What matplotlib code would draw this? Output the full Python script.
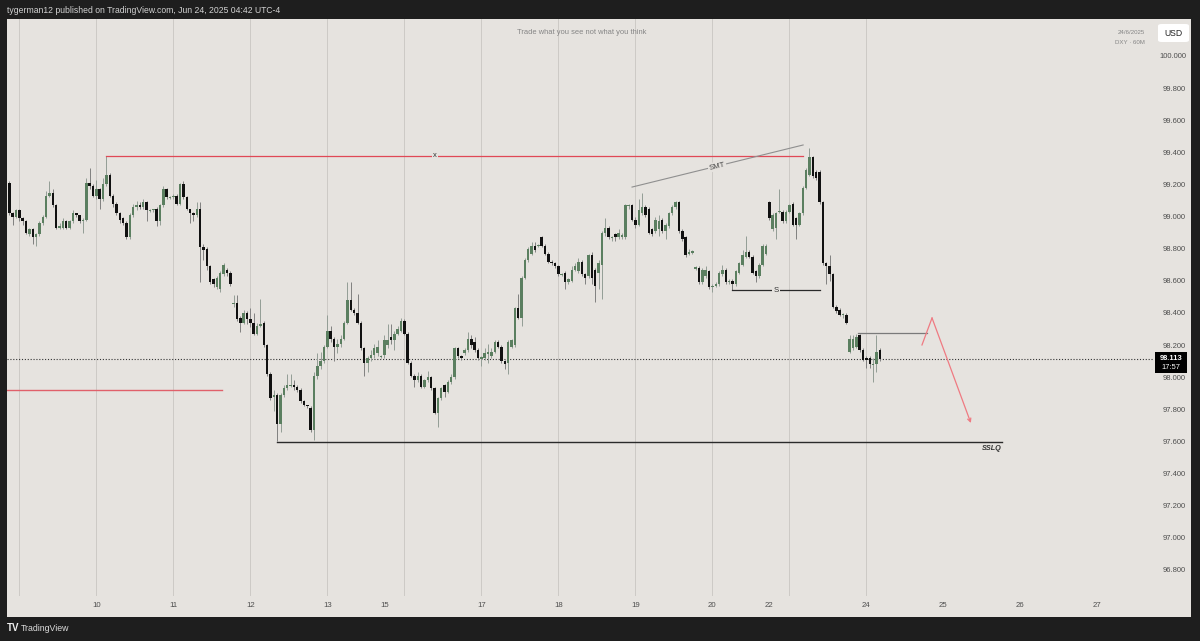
import numpy as np
import matplotlib
matplotlib.use("Agg")
import matplotlib.pyplot as plt
from matplotlib.patches import Rectangle, FancyBboxPatch

# ---------------- data (DXY 60 min candles) ----------------
opens = [
    99.21, 99.02, 99.00, 99.04, 98.99, 98.97, 98.89, 98.92, 98.87, 98.89,
    98.96, 99.00, 99.13, 99.15, 99.07, 98.93, 98.93, 98.97, 98.93, 98.97,
    99.02, 99.01, 98.97, 98.98, 99.21, 99.19, 99.13, 99.17, 99.11, 99.20,
    99.26, 99.13, 99.08, 99.02, 98.99, 98.96, 98.87, 99.01, 99.06, 99.07,
    99.06, 99.09, 99.04, 99.04, 99.05, 98.97, 99.07, 99.17, 99.12, 99.12,
    99.13, 99.08, 99.20, 99.12, 99.05, 99.02, 99.01, 99.05, 98.81, 98.80,
    98.69, 98.61, 98.56, 98.55, 98.64, 98.67, 98.65, 98.46, 98.46, 98.37,
    98.34, 98.40, 98.36, 98.34, 98.27, 98.32, 98.34, 98.20, 98.02, 97.88,
    97.89, 97.71, 97.89, 97.93, 97.95, 97.95, 97.94, 97.92, 97.85, 97.83,
    97.81, 97.67, 98.01, 98.07, 98.10, 98.19, 98.29, 98.24, 98.19, 98.21,
    98.24, 98.34, 98.48, 98.42, 98.40, 98.34, 98.18, 98.09, 98.12, 98.14,
    98.15, 98.13, 98.14, 98.20, 98.25, 98.23, 98.27, 98.29, 98.35, 98.27,
    98.09, 98.01, 97.98, 98.01, 97.94, 97.98, 98.00, 97.93, 97.78, 97.87,
    97.95, 97.91, 97.97, 98.00, 98.18, 98.13, 98.15, 98.17, 98.24, 98.22,
    98.17, 98.12, 98.12, 98.15, 98.13, 98.16, 98.22, 98.19, 98.10, 98.09,
    98.19, 98.20, 98.43, 98.37, 98.62, 98.73, 98.77, 98.82, 98.82, 98.87,
    98.82, 98.77, 98.72, 98.71, 98.69, 98.64, 98.65, 98.59, 98.60, 98.67,
    98.66, 98.72, 98.64, 98.63, 98.76, 98.67, 98.65, 98.70, 98.90, 98.93,
    98.87, 98.89, 98.87, 98.88, 98.87, 99.07, 99.07, 98.98, 98.95, 99.02,
    99.06, 99.05, 98.92, 98.91, 98.92, 98.98, 98.91, 98.94, 99.02, 99.06,
    99.09, 98.91, 98.87, 98.77, 98.78, 98.68, 98.68, 98.59, 98.63, 98.66,
    98.56, 98.57, 98.58, 98.64, 98.67, 98.59, 98.60, 98.58, 98.65, 98.70,
    98.75, 98.78, 98.75, 98.66, 98.63, 98.70, 98.77, 99.09, 98.92, 98.93,
    99.03, 99.03, 98.97, 99.03, 99.08, 98.99, 98.95, 99.02, 99.18, 99.26,
    99.37, 99.28, 99.28, 99.09, 98.71, 98.69, 98.64, 98.44, 98.42, 98.39,
    98.39, 98.16, 98.18, 98.19, 98.26, 98.17, 98.12, 98.12, 98.08, 98.08,
    98.17,
]
highs = [
    99.22, 99.03, 99.05, 99.05, 99.00, 98.98, 98.93, 98.93, 98.90, 98.97,
    99.01, 99.16, 99.22, 99.17, 99.08, 98.96, 98.99, 98.98, 98.98, 99.04,
    99.02, 99.01, 98.99, 99.24, 99.30, 99.20, 99.23, 99.18, 99.24, 99.38,
    99.27, 99.14, 99.09, 99.03, 99.00, 98.97, 99.02, 99.08, 99.10, 99.09,
    99.11, 99.10, 99.05, 99.05, 99.06, 99.08, 99.19, 99.18, 99.13, 99.14,
    99.14, 99.21, 99.22, 99.13, 99.05, 99.03, 99.09, 99.09, 98.83, 98.81,
    98.70, 98.62, 98.63, 98.66, 98.71, 98.68, 98.66, 98.51, 98.51, 98.38,
    98.42, 98.41, 98.43, 98.40, 98.34, 98.49, 98.35, 98.21, 98.03, 97.92,
    97.90, 97.90, 97.95, 98.02, 98.02, 97.98, 97.95, 97.93, 97.86, 97.83,
    97.82, 98.03, 98.15, 98.16, 98.20, 98.39, 98.32, 98.25, 98.24, 98.26,
    98.35, 98.59, 98.59, 98.43, 98.52, 98.35, 98.19, 98.13, 98.17, 98.21,
    98.23, 98.14, 98.26, 98.33, 98.33, 98.29, 98.32, 98.37, 98.36, 98.28,
    98.10, 98.02, 98.03, 98.02, 97.99, 98.04, 98.01, 97.94, 97.88, 97.94,
    97.96, 97.98, 98.02, 98.19, 98.19, 98.14, 98.18, 98.28, 98.26, 98.25,
    98.18, 98.13, 98.18, 98.21, 98.18, 98.23, 98.23, 98.20, 98.11, 98.23,
    98.24, 98.44, 98.52, 98.63, 98.74, 98.81, 98.84, 98.84, 98.83, 98.88,
    98.83, 98.78, 98.73, 98.72, 98.70, 98.65, 98.66, 98.62, 98.69, 98.71,
    98.74, 98.73, 98.65, 98.77, 98.78, 98.68, 98.73, 98.91, 98.99, 98.94,
    98.88, 98.90, 98.92, 98.90, 99.08, 99.08, 99.08, 99.00, 99.11, 99.15,
    99.07, 99.06, 98.93, 99.00, 99.01, 98.99, 98.96, 99.03, 99.07, 99.10,
    99.10, 98.92, 98.88, 98.80, 98.79, 98.69, 98.69, 98.68, 98.69, 98.67,
    98.58, 98.59, 98.66, 98.70, 98.68, 98.61, 98.61, 98.67, 98.72, 98.79,
    98.88, 98.79, 98.76, 98.67, 98.71, 98.83, 98.83, 99.10, 99.02, 99.03,
    99.17, 99.04, 99.04, 99.08, 99.09, 99.00, 99.03, 99.19, 99.30, 99.43,
    99.38, 99.29, 99.29, 99.10, 98.72, 98.76, 98.65, 98.45, 98.43, 98.40,
    98.40, 98.26, 98.26, 98.27, 98.27, 98.18, 98.13, 98.13, 98.12, 98.26,
    98.18,
]
lows = [
    99.01, 98.95, 98.99, 98.97, 98.95, 98.89, 98.88, 98.83, 98.82, 98.88,
    98.95, 98.99, 99.12, 99.06, 98.92, 98.92, 98.92, 98.92, 98.92, 98.96,
    99.00, 98.96, 98.90, 98.97, 99.17, 99.12, 99.11, 99.05, 99.10, 99.19,
    99.12, 99.06, 99.01, 98.96, 98.95, 98.86, 98.86, 99.00, 99.04, 99.05,
    99.05, 98.97, 99.03, 99.03, 98.94, 98.95, 99.06, 99.11, 99.11, 99.11,
    99.07, 99.07, 99.11, 99.04, 98.96, 98.97, 99.00, 98.59, 98.73, 98.67,
    98.58, 98.56, 98.55, 98.53, 98.63, 98.63, 98.57, 98.44, 98.35, 98.28,
    98.33, 98.33, 98.31, 98.26, 98.26, 98.31, 98.19, 98.01, 97.86, 97.79,
    97.60, 97.66, 97.88, 97.92, 97.94, 97.92, 97.91, 97.84, 97.82, 97.81,
    97.66, 97.61, 97.99, 98.05, 98.09, 98.18, 98.22, 98.10, 98.15, 98.19,
    98.23, 98.33, 98.41, 98.39, 98.33, 98.17, 98.01, 98.03, 98.10, 98.12,
    98.13, 98.12, 98.12, 98.18, 98.21, 98.17, 98.26, 98.28, 98.26, 98.08,
    98.00, 97.94, 97.97, 97.93, 97.93, 97.97, 97.92, 97.77, 97.69, 97.86,
    97.88, 97.90, 97.96, 97.99, 98.12, 98.11, 98.14, 98.16, 98.18, 98.16,
    98.11, 98.07, 98.11, 98.09, 98.12, 98.15, 98.18, 98.09, 98.05, 98.02,
    98.18, 98.19, 98.36, 98.32, 98.61, 98.72, 98.76, 98.78, 98.81, 98.81,
    98.76, 98.71, 98.70, 98.68, 98.63, 98.63, 98.55, 98.58, 98.59, 98.66,
    98.65, 98.63, 98.58, 98.62, 98.58, 98.47, 98.55, 98.49, 98.88, 98.86,
    98.85, 98.85, 98.86, 98.86, 98.86, 99.05, 98.97, 98.93, 98.94, 99.01,
    99.00, 98.89, 98.88, 98.90, 98.88, 98.90, 98.86, 98.93, 99.01, 99.05,
    98.90, 98.85, 98.75, 98.76, 98.77, 98.67, 98.58, 98.58, 98.62, 98.55,
    98.53, 98.56, 98.57, 98.63, 98.58, 98.58, 98.54, 98.57, 98.64, 98.69,
    98.74, 98.74, 98.64, 98.59, 98.62, 98.69, 98.76, 98.98, 98.91, 98.86,
    99.02, 98.96, 98.96, 99.02, 98.94, 98.86, 98.94, 99.01, 99.17, 99.25,
    99.24, 99.23, 99.08, 98.70, 98.58, 98.60, 98.43, 98.40, 98.38, 98.37,
    98.33, 98.15, 98.17, 98.18, 98.16, 98.10, 98.06, 98.06, 97.97, 98.03,
    98.10,
]
closes = [
    99.02, 99.00, 99.04, 98.99, 98.97, 98.90, 98.92, 98.87, 98.89, 98.96,
    99.00, 99.13, 99.15, 99.07, 98.93, 98.94, 98.97, 98.93, 98.97, 99.02,
    99.01, 98.97, 98.98, 99.21, 99.19, 99.13, 99.17, 99.11, 99.20, 99.26,
    99.13, 99.08, 99.02, 98.98, 98.96, 98.87, 99.01, 99.06, 99.07, 99.06,
    99.09, 99.04, 99.04, 99.05, 98.97, 99.07, 99.17, 99.12, 99.12, 99.13,
    99.08, 99.20, 99.12, 99.05, 99.02, 99.01, 99.05, 98.81, 98.79, 98.69,
    98.59, 98.58, 98.62, 98.65, 98.70, 98.65, 98.58, 98.46, 98.36, 98.34,
    98.40, 98.36, 98.34, 98.27, 98.32, 98.33, 98.20, 98.02, 97.87, 97.89,
    97.71, 97.89, 97.93, 97.95, 97.95, 97.94, 97.92, 97.85, 97.83, 97.82,
    97.67, 98.01, 98.07, 98.10, 98.19, 98.29, 98.24, 98.19, 98.21, 98.24,
    98.34, 98.48, 98.42, 98.40, 98.34, 98.18, 98.09, 98.12, 98.14, 98.18,
    98.19, 98.13, 98.23, 98.23, 98.23, 98.27, 98.30, 98.35, 98.27, 98.09,
    98.01, 97.98, 98.01, 97.94, 97.98, 98.00, 97.93, 97.78, 97.87, 97.93,
    97.91, 97.97, 98.00, 98.18, 98.13, 98.12, 98.17, 98.24, 98.20, 98.17,
    98.12, 98.12, 98.15, 98.15, 98.16, 98.22, 98.19, 98.10, 98.08, 98.22,
    98.23, 98.43, 98.37, 98.62, 98.73, 98.80, 98.82, 98.79, 98.82, 98.82,
    98.77, 98.72, 98.71, 98.69, 98.64, 98.64, 98.59, 98.61, 98.67, 98.69,
    98.72, 98.64, 98.62, 98.76, 98.62, 98.57, 98.71, 98.90, 98.93, 98.87,
    98.87, 98.87, 98.90, 98.88, 99.07, 99.07, 98.98, 98.95, 99.04, 99.06,
    99.01, 98.90, 98.89, 98.98, 98.97, 98.91, 98.95, 99.02, 99.06, 99.09,
    98.91, 98.86, 98.76, 98.78, 98.78, 98.68, 98.59, 98.67, 98.67, 98.56,
    98.57, 98.58, 98.65, 98.67, 98.59, 98.60, 98.58, 98.66, 98.71, 98.76,
    98.78, 98.75, 98.65, 98.63, 98.70, 98.82, 98.82, 98.99, 99.01, 99.02,
    99.03, 98.97, 99.03, 99.07, 98.95, 98.95, 99.02, 99.18, 99.29, 99.37,
    99.25, 99.24, 99.09, 98.71, 98.69, 98.64, 98.44, 98.41, 98.39, 98.39,
    98.34, 98.24, 98.24, 98.25, 98.17, 98.11, 98.11, 98.08, 98.08, 98.16,
    98.113,
]

# time axis (candle index of session/day starts)
day_labels = ["10", "11", "12", "13", "15", "17", "18", "19", "20", "22", "24", "25", "26", "27"]
day_label_pos = [26, 49, 72, 95, 112, 141, 164, 187, 210, 227, 256, 279, 302, 325]
grid_pos = [3, 26, 49, 72, 95, 118, 141, 164, 187, 210, 233, 256]
price_levels = [96.8, 97.0, 97.2, 97.4, 97.6, 97.8, 98.0, 98.2, 98.4, 98.6,
                98.8, 99.0, 99.2, 99.4, 99.6, 99.8, 100.0]
last_price = 98.113

# drawings (index, price)
x_line_x = [29, 237.1];        x_line_y = [99.38, 99.38]
smt_x = [186.0, 237.1];        smt_y = [99.184, 99.446]
s_x = [215.9, 242.1];          s_y = [98.543, 98.543]
sslq_x = [80, 296.5];          sslq_y = [97.597, 97.597]
left_red_x = [-0.7, 63.5];     left_red_y = [97.921, 97.921]
grey_x = [253.5, 274.1];       grey_y = [98.276, 98.276]
arrow_x = [272.6, 275.6, 287.2]
arrow_y = [98.201, 98.369, 97.715]

# ---------------- figure ----------------
W, H = 1200, 641
fig = plt.figure(figsize=(12, 6.41), dpi=100)
fig.patch.set_facecolor('#1e1e1e')
PANE = '#e6e3df'
FONT = 'Liberation Sans'


def fx(px):
    return px / W


def fy(py):
    return 1 - py / H


fig.patches.append(Rectangle((fx(7), fy(617)), fx(1191) - fx(7), fy(19) - fy(617),
                             transform=fig.transFigure, facecolor=PANE,
                             edgecolor='none', zorder=-5))

ax = fig.add_axes([fx(7), fy(596), fx(1153) - fx(7), fy(19) - fy(596)])
ax.set_zorder(1)
ax.set_facecolor(PANE)
for s in ax.spines.values():
    s.set_visible(False)
ax.set_xlim(-0.69, 341.6)
ax.set_ylim(96.638, 100.2303)

for g in grid_pos:
    ax.axvline(g, color='#cdcac6', lw=0.7, zorder=0)

o = np.array(opens)
h = np.array(highs)
l = np.array(lows)
c = np.array(closes)
x = np.arange(len(c))
up = c >= o

ax.vlines(x[up], l[up], h[up], colors='#939d95', lw=0.7, zorder=2)
ax.vlines(x[~up], l[~up], h[~up], colors='#808080', lw=0.7, zorder=2)
bot = np.minimum(o, c)
hgt = np.abs(c - o)
minh = 0.008
bot = np.where(hgt < minh, (o + c) / 2 - minh / 2, bot)
hgt = np.maximum(hgt, minh)
ax.bar(x[up], hgt[up], bottom=bot[up], width=0.74, color='#5b7f60', lw=0, zorder=3)
ax.bar(x[~up], hgt[~up], bottom=bot[~up], width=0.74, color='#111111', lw=0, zorder=3)

# last price dotted line
ax.axhline(last_price, color='#333333', lw=0.8, ls=(0, (1, 1.6)), zorder=1)

# drawings
label_box = dict(facecolor=PANE, edgecolor='none', pad=0.8)
ax.plot(x_line_x, x_line_y, color='#e04856', lw=0.9, zorder=4)
ax.text(127.1, 99.38, 'x', fontsize=5.5, color='#333333', ha='center', va='center',
        family=FONT, bbox=label_box, zorder=5)
ax.plot(smt_x, smt_y, color='#8f8f8f', lw=0.8, zorder=4)
ax.text(211.4, 99.314, 'SMT', fontsize=5.6, color='#444444', ha='center', va='center',
        rotation=13.8, rotation_mode='anchor', family=FONT, bbox=label_box, zorder=5)
ax.plot(s_x, s_y, color='#2a2a2a', lw=0.9, zorder=4)
ax.text(229.0, 98.543, 'S', fontsize=5.6, color='#333333', ha='center', va='center',
        family=FONT, bbox=label_box, zorder=5)
ax.plot(sslq_x, sslq_y, color='#2a2a2a', lw=1.0, zorder=4)
ax.text(296.5, 97.575, 'SSLQ', fontsize=5.2, color='#333333', ha='right', va='top',
        style='italic', fontweight='bold', family=FONT, zorder=5)
ax.plot(left_red_x, left_red_y, color='#e0606a', lw=1.0, zorder=4)
ax.plot(grey_x, grey_y, color='#7a7a7a', lw=0.9, zorder=4)
ax.plot(arrow_x[:2], arrow_y[:2], color='#ef7a82', lw=0.9, zorder=4)
ax.annotate('', xy=(arrow_x[2], arrow_y[2]), xytext=(arrow_x[1], arrow_y[1]),
            arrowprops=dict(arrowstyle='->', color='#ef7a82', lw=0.9,
                            shrinkA=0, shrinkB=0, mutation_scale=6), zorder=4)

# axes ticks
ax.set_xticks(day_label_pos)
ax.set_xticklabels(day_labels)
ax.tick_params(axis='x', length=0, pad=4.6, labelsize=5.6, labelcolor='#4e4e4e')
ax.yaxis.tick_right()
ax.set_yticks(price_levels)
ax.set_yticklabels([f'{p:.3f}' for p in price_levels])
ax.tick_params(axis='y', length=0, pad=23.8, labelsize=5.5, labelcolor='#4e4e4e')
for lbl in ax.get_yticklabels():
    lbl.set_ha('right')
    lbl.set_family(FONT)
for lbl in ax.get_xticklabels():
    lbl.set_family(FONT)

# last price tag
fig.patches.append(Rectangle((fx(1155), fy(373)), fx(1187) - fx(1155), fy(352) - fy(373),
                             transform=fig.transFigure, facecolor='#000000',
                             edgecolor='none', zorder=5))
fig.text(fx(1171), fy(358.5), '98.113', fontsize=5.4, fontweight='bold', color='white',
         ha='center', va='center', family=FONT, zorder=6)
fig.text(fx(1171), fy(367.5), '17:57', fontsize=5.4, color='white',
         ha='center', va='center', family=FONT, zorder=6)

# header / footer / overlays
fig.text(fx(7), fy(10.5), 'tygerman12 published on TradingView.com, Jun 24, 2025 04:42 UTC-4',
         fontsize=6.2, color='#d2d2d2', ha='left', va='center', family=FONT)
fig.text(fx(582), fy(33), 'Trade what you see not what you think', fontsize=5.4,
         color='#858585', ha='center', va='center', family=FONT, zorder=6)
fig.text(fx(1145), fy(32), '24/6/2025', fontsize=4.4, color='#858585',
         ha='right', va='center', family=FONT, zorder=6)
fig.text(fx(1145), fy(42), 'DXY · 60M', fontsize=4.4, color='#858585',
         ha='right', va='center', family=FONT, zorder=6)
fig.patches.append(FancyBboxPatch((fx(1158), fy(42)), fx(1189) - fx(1158), fy(24) - fy(42),
                                  boxstyle='round,pad=0,rounding_size=0.003',
                                  transform=fig.transFigure, facecolor='white',
                                  edgecolor='none', zorder=5))
fig.text(fx(1173.5), fy(33), 'USD', fontsize=6.2, color='#222222', ha='center',
         va='center', family=FONT, zorder=6)
fig.text(fx(7), fy(628), 'TV', fontsize=7, fontweight='bold', color='#f0f0f0',
         ha='left', va='center', family=FONT)
fig.text(fx(21), fy(628.5), 'TradingView', fontsize=6.3, color='#dcdcdc',
         ha='left', va='center', family=FONT)

fig.savefig('out.png', dpi=100, facecolor=fig.get_facecolor())
